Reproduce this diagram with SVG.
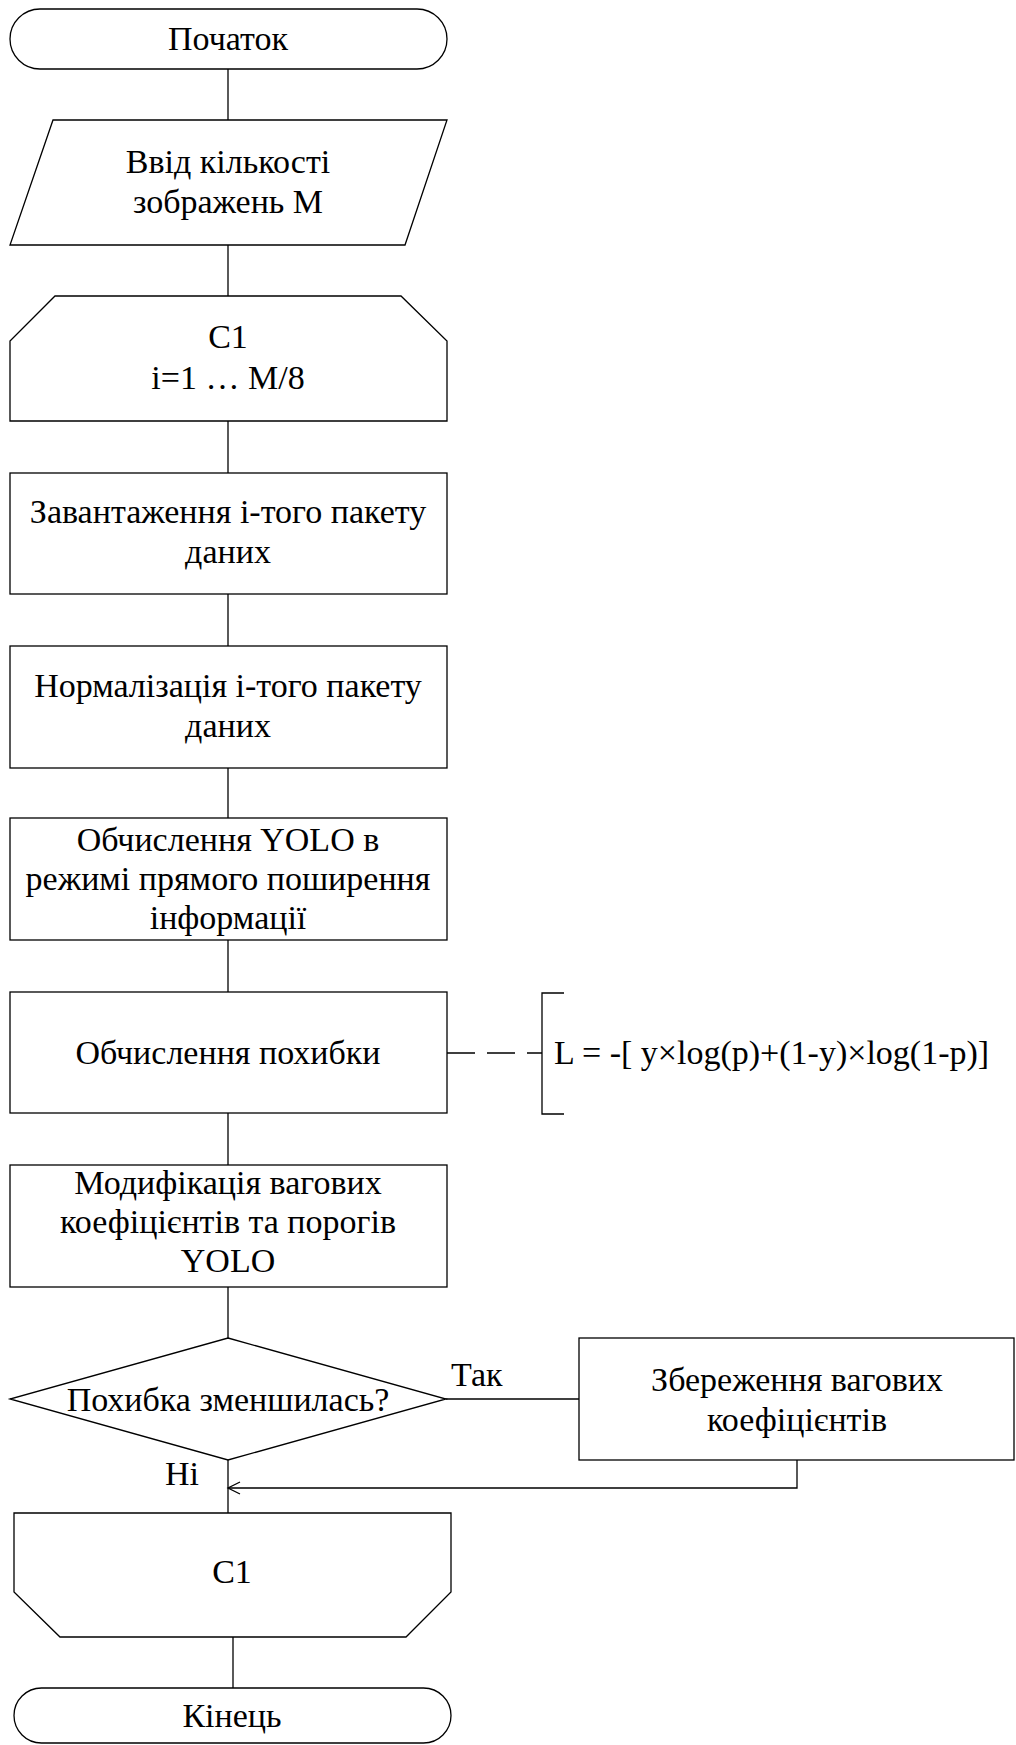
<svg xmlns="http://www.w3.org/2000/svg" width="1016" height="1745" viewBox="0 0 1016 1745">
<defs>
<style>
.s{fill:#fff;stroke:#000;stroke-width:1.3}
.c{fill:none;stroke:#000;stroke-width:1.3}
.t{font-family:"Liberation Serif","Times New Roman",serif;font-size:34px;fill:#000;text-anchor:middle}
.tl{font-family:"Liberation Serif","Times New Roman",serif;font-size:34px;fill:#000}
</style>
</defs>
<rect width="1016" height="1745" fill="#fff"/>
<g id="connectors">
<line class="c" x1="228" y1="69" x2="228" y2="120"/>
<line class="c" x1="228" y1="245" x2="228" y2="296"/>
<line class="c" x1="228" y1="421" x2="228" y2="473"/>
<line class="c" x1="228" y1="594" x2="228" y2="646"/>
<line class="c" x1="228" y1="768" x2="228" y2="818"/>
<line class="c" x1="228" y1="940" x2="228" y2="992"/>
<line class="c" x1="228" y1="1113" x2="228" y2="1165"/>
<line class="c" x1="228" y1="1287" x2="228" y2="1338"/>
<line class="c" x1="228" y1="1460" x2="228" y2="1513"/>
<line class="c" x1="446" y1="1399" x2="579" y2="1399"/>
<polyline class="c" points="797,1460 797,1488 229,1488"/>
<path d="M240,1482 L228,1488 L240,1494" fill="none" stroke="#000" stroke-width="1.3"/>
<line class="c" x1="233" y1="1637" x2="233" y2="1688"/>
<line class="c" x1="447" y1="1053" x2="542" y2="1053" stroke-dasharray="28 12"/>
</g>
<g id="start">
<rect class="s" x="10" y="9" width="437" height="60" rx="30" ry="30"/>
<text class="t" x="228" y="50">Початок</text>
</g>
<g id="input">
<polygon class="s" points="53,120 447,120 405,245 10,245"/>
<text class="t" x="228" y="173">Ввід кількості</text>
<text class="t" x="228" y="213">зображень M</text>
</g>
<g id="loop-start">
<polygon class="s" points="55,296 401,296 447,341 447,421 10,421 10,341"/>
<text class="t" x="228" y="348">C1</text>
<text class="t" x="228" y="389">i=1 … M/8</text>
</g>
<g id="load">
<rect class="s" x="10" y="473" width="437" height="121"/>
<text class="t" x="228" y="523">Завантаження і-того пакету</text>
<text class="t" x="228" y="563">даних</text>
</g>
<g id="normalize">
<rect class="s" x="10" y="646" width="437" height="122"/>
<text class="t" x="228" y="697">Нормалізація і-того пакету</text>
<text class="t" x="228" y="737">даних</text>
</g>
<g id="forward">
<rect class="s" x="10" y="818" width="437" height="122"/>
<text class="t" x="228" y="851">Обчислення YOLO в</text>
<text class="t" x="228" y="890">режимі прямого поширення</text>
<text class="t" x="228" y="929">інформації</text>
</g>
<g id="loss">
<rect class="s" x="10" y="992" width="437" height="121"/>
<text class="t" x="228" y="1064">Обчислення похибки</text>
</g>
<g id="formula">
<polyline class="c" points="564,993 542,993 542,1114 564,1114"/>
<text class="tl" x="554" y="1064">L = -[ y×log(p)+(1-y)×log(1-p)]</text>
</g>
<g id="update">
<rect class="s" x="10" y="1165" width="437" height="122"/>
<text class="t" x="228" y="1194">Модифікація вагових</text>
<text class="t" x="228" y="1233">коефіцієнтів та порогів</text>
<text class="t" x="228" y="1272">YOLO</text>
</g>
<g id="decision">
<polygon class="s" points="228,1338 446,1399 228,1460 10,1399"/>
<text class="t" x="228" y="1411">Похибка зменшилась?</text>
<text class="tl" x="451" y="1386">Так</text>
<text class="tl" x="165" y="1485">Ні</text>
</g>
<g id="save">
<rect class="s" x="579" y="1338" width="435" height="122"/>
<text class="t" x="797" y="1391">Збереження вагових</text>
<text class="t" x="797" y="1431">коефіцієнтів</text>
</g>
<g id="loop-end">
<polygon class="s" points="14,1513 451,1513 451,1592 406,1637 60,1637 14,1592"/>
<text class="t" x="232" y="1583">C1</text>
</g>
<g id="end">
<rect class="s" x="14" y="1688" width="437" height="55" rx="27.5" ry="27.5"/>
<text class="t" x="232" y="1727">Кінець</text>
</g>
</svg>
